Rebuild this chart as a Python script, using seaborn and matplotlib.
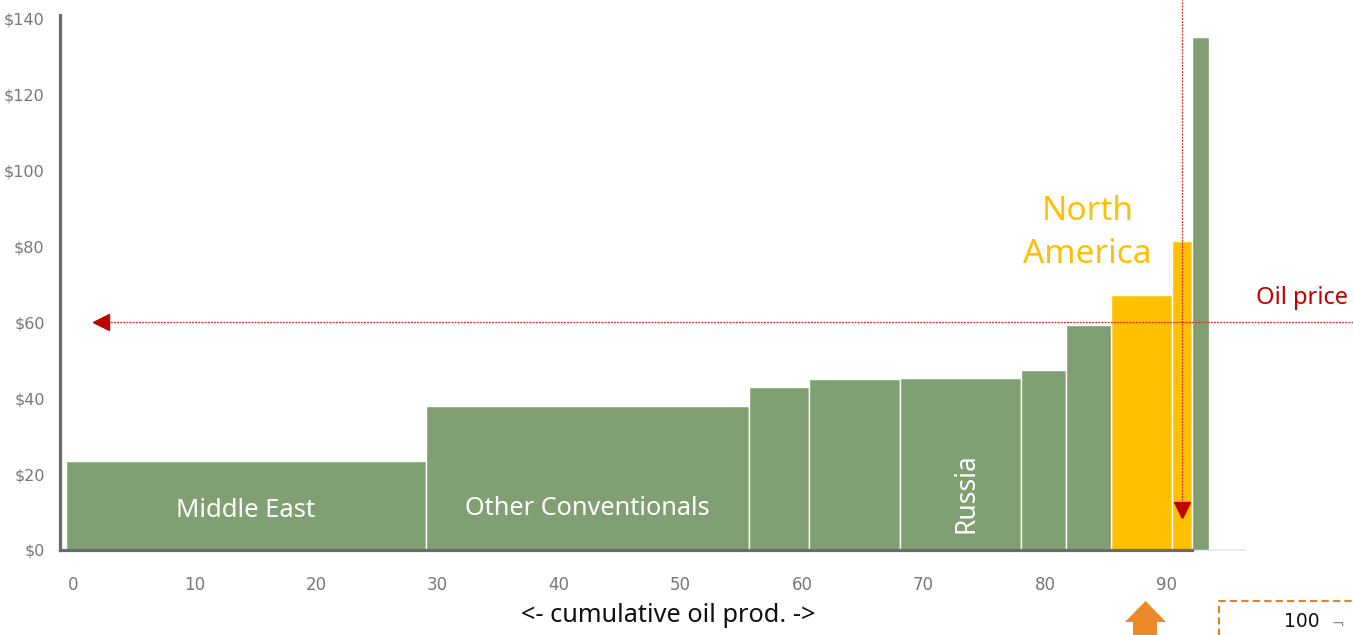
import numpy as np
import pandas as pd
import matplotlib
matplotlib.use("Agg")
import matplotlib.pyplot as plt
from matplotlib.patches import Polygon
from matplotlib.lines import Line2D
import seaborn as sns

# Oil supply cost curve: production blocks (width = cumulative production share)
# and breakeven cost per barrel
block_widths = [29.65, 26.55, 5.0, 7.5, 9.9, 3.7, 3.7, 5.05, 1.65, 1.4]
block_costs = [23.4, 37.9, 42.9, 45.0, 45.3, 47.4, 59.2, 67.1, 81.3, 135.0]
block_groups = ["other", "other", "other", "other", "other", "other", "other",
                "North America", "North America", "other"]
x_ticks = [0, 10, 20, 30, 40, 50, 60, 70, 80, 90]
y_ticks = [0, 20, 40, 60, 80, 100, 120, 140]
oil_price = 60

start = -0.6
edges = start + np.concatenate([[0], np.cumsum(block_widths)])
mids = (edges[:-1] + edges[1:]) / 2
df = pd.DataFrame({"production": mids, "cost": block_costs, "group": block_groups})

GREEN = "#80A073"
GOLD = "#FFC000"
RED = "#C00000"
DOT_RED = "#D8262B"
AXIS_GREY = "#6b6b6b"
TICK_GREY = "#777777"

sns.set_theme(style="white")
plt.rcParams["font.family"] = ["Noto Sans", "DejaVu Sans"]

W, H = 1353, 635
fig = plt.figure(figsize=(W / 100, H / 100), dpi=100)
ax = fig.add_axes([60 / W, 85 / H, (W - 60) / W, 535 / H])

sns.histplot(data=df, x="production", weights="cost", bins=[float(e) for e in edges],
             hue="group", palette={"other": GREEN, "North America": GOLD},
             multiple="layer", alpha=1, edgecolor="white", linewidth=1,
             legend=False, ax=ax)

ax.set_xlim(-1.07, 105.35)
ax.set_ylim(0, 140.8)
ax.set_xlabel("")
ax.set_ylabel("")

ax.set_yticks(y_ticks)
ax.set_yticklabels([f"${v}" for v in y_ticks], family="DejaVu Sans")
ax.set_xticks(x_ticks)
ax.set_xticklabels([str(v) for v in x_ticks], family="DejaVu Sans")
ax.tick_params(axis="y", length=0, pad=11, labelsize=11.5, labelcolor=TICK_GREY)
ax.tick_params(axis="x", length=0, pad=19, labelsize=12, labelcolor=TICK_GREY)

for side in ("top", "right"):
    ax.spines[side].set_visible(False)
for side in ("left", "bottom"):
    ax.spines[side].set_color(AXIS_GREY)
    ax.spines[side].set_linewidth(2.3)
ax.spines["bottom"].set_bounds(-1.07, edges[-2])
ax.plot([edges[-2], 96.5], [0, 0], color="#e3e8ec", lw=1.2, zorder=0.5, clip_on=False)

# Oil price line with arrow pointing to the price axis
ax.plot([2.3, 105.35], [oil_price, oil_price], color=DOT_RED, lw=0.9,
        linestyle=(0, (1.5, 1)), zorder=3)
ax.plot([2.3], [oil_price], marker="<", ms=12, color=RED, mec=RED, zorder=4)

# Marginal supply line dropping down from the top
vx = 91.27
ax.plot([vx, vx], [10.5, 144.7], color=DOT_RED, lw=0.9,
        linestyle=(0, (1.5, 1)), zorder=3, clip_on=False)
ax.plot([vx], [10.5], marker="v", ms=12, color=RED, mec=RED, zorder=4)

# Region labels
ax.text(14.2, 10.5, "Middle East", color="white", fontsize=18.5, ha="center", va="center")
ax.text(42.3, 11.0, "Other Conventionals", color="white", fontsize=18.2,
        ha="center", va="center")
ax.text(73.5, 14.9, "Russia", color="white", fontsize=19, rotation=90,
        ha="center", va="center")
ax.text(83.5, 83.4, "North\nAmerica", color=GOLD, fontsize=24, ha="center",
        va="center", linespacing=1.42)
ax.text(104.9, 66.3, "Oil price", color=RED, fontsize=17, ha="right", va="center")

ax.text((668 - 60) / 1293, -66 / 535, "<- cumulative oil prod. ->", color="#111111",
        fontsize=18.2, ha="center", va="center", transform=ax.transAxes)

# Orange up-arrow and dashed box at the lower right
def fig_pts(pts):
    return [(px / W, 1 - py / H) for px, py in pts]

arrow = Polygon(fig_pts([(1125, 622), (1145.5, 601), (1166, 622), (1157, 622),
                         (1157, 645), (1133, 645), (1133, 622)]),
                closed=True, transform=fig.transFigure, facecolor="#EC8A2A",
                edgecolor="none", clip_on=False)
fig.patches.append(arrow)

box_pts = fig_pts([(1219, 645), (1219, 601), (1365, 601)])
fig.lines.append(Line2D([p[0] for p in box_pts], [p[1] for p in box_pts],
                        transform=fig.transFigure, color="#EE7D1B",
                        lw=1.5, linestyle=(0, (3.5, 2))))
fig.text(1302 / W, 1 - 612 / H, "100", fontsize=13.5, color="#111111",
         ha="center", va="top", family="DejaVu Sans")
fig.text(1338 / W, 1 - 617 / H, "¬", fontsize=11, color="#888888",
         ha="center", va="top", family="DejaVu Sans")

fig.savefig("out.png", dpi=100)
